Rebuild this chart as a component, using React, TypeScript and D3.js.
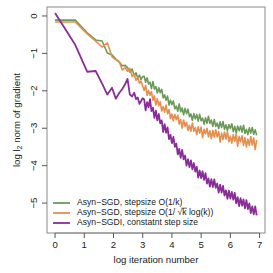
import { useLayoutEffect, useRef, useState } from 'react'
import * as d3 from 'd3'

const W = 273, H = 273
const M = { top: 7, right: 8, bottom: 40, left: 47 }

// log iteration number (shared by all three runs)
const logIter = [
  0, 0.69, 1.10, 1.39, 1.61, 1.79, 1.95, 2.08, 2.20, 2.30,
  2.40, 2.48, 2.56, 2.64, 2.71, 2.77, 2.83, 2.89, 2.94, 3.00,
  3.05, 3.10, 3.15, 3.20, 3.25, 3.30, 3.35, 3.40, 3.45, 3.50,
  3.55, 3.60, 3.65, 3.70, 3.75, 3.80, 3.85, 3.90, 3.95, 4.00,
  4.05, 4.10, 4.15, 4.20, 4.25, 4.30, 4.35, 4.40, 4.45, 4.50,
  4.55, 4.60, 4.65, 4.70, 4.75, 4.80, 4.85, 4.90, 4.95, 5.00,
  5.05, 5.10, 5.15, 5.20, 5.25, 5.30, 5.35, 5.40, 5.45, 5.50,
  5.55, 5.60, 5.65, 5.70, 5.75, 5.80, 5.85, 5.90, 5.95, 6.00,
  6.05, 6.10, 6.15, 6.20, 6.25, 6.30, 6.35, 6.40, 6.45, 6.50,
  6.55, 6.60, 6.65, 6.70, 6.75, 6.80, 6.85, 6.90,
]

const sgdInvK = [
  -0.11, -0.11, -0.45, -0.64, -0.67, -0.99, -1.04, -1.15, -1.23, -1.33,
  -1.32, -1.38, -1.50, -1.42, -1.60, -1.52, -1.66, -1.58, -1.70, -1.62,
  -1.61, -1.77, -1.65, -1.82, -1.77, -1.94, -1.75, -1.95, -1.89, -2.06,
  -1.92, -2.05, -1.96, -2.19, -2.11, -2.25, -2.14, -2.38, -2.25, -2.37,
  -2.27, -2.48, -2.41, -2.55, -2.35, -2.56, -2.46, -2.64, -2.47, -2.61,
  -2.49, -2.69, -2.62, -2.79, -2.61, -2.75, -2.63, -2.81, -2.63, -2.80,
  -2.73, -2.89, -2.72, -2.87, -2.68, -2.87, -2.78, -2.95, -2.77, -2.95,
  -2.86, -3.01, -2.83, -2.98, -2.82, -3.03, -2.91, -3.06, -2.90, -3.01,
  -2.88, -3.09, -2.95, -3.13, -2.94, -3.07, -2.94, -3.10, -2.92, -3.14,
  -3.03, -3.17, -2.99, -3.13, -2.98, -3.16, -3.04, -3.19,
]

const sgdSqrtK = [
  -0.16, -0.16, -0.48, -0.67, -0.83, -0.72, -1.09, -1.17, -1.23, -1.44,
  -1.38, -1.48, -1.40, -1.62, -1.55, -1.72, -1.64, -1.80, -1.74, -1.88,
  -1.99, -1.85, -2.12, -1.99, -2.12, -2.02, -2.25, -2.14, -2.38, -2.21,
  -2.40, -2.29, -2.54, -2.42, -2.57, -2.38, -2.61, -2.50, -2.74, -2.62,
  -2.80, -2.63, -2.77, -2.65, -2.89, -2.77, -3.00, -2.78, -2.95, -2.84,
  -3.06, -2.92, -3.08, -2.86, -3.08, -2.98, -3.17, -2.96, -3.13, -2.97,
  -3.25, -3.03, -3.15, -3.00, -3.23, -3.07, -3.28, -3.06, -3.24, -3.04,
  -3.23, -3.09, -3.37, -3.13, -3.30, -3.10, -3.29, -3.09, -3.36, -3.21,
  -3.40, -3.17, -3.35, -3.16, -3.48, -3.22, -3.36, -3.20, -3.46, -3.25,
  -3.50, -3.29, -3.46, -3.22, -3.45, -3.26, -3.57, -3.31,
]

const sgdiConst = [
  0.08, -0.77, -1.49, -1.47, -1.81, -2.10, -1.92, -2.21, -2.05, -1.95,
  -1.82, -1.68, -2.10, -2.15, -2.05, -2.22, -2.18, -2.35, -2.28, -2.20,
  -2.23, -2.52, -2.30, -2.44, -2.22, -2.54, -2.45, -2.72, -2.53, -2.79,
  -2.62, -2.87, -2.79, -3.10, -2.89, -3.12, -2.98, -3.29, -3.18, -3.40,
  -3.23, -3.50, -3.41, -3.70, -3.55, -3.79, -3.58, -3.83, -3.73, -4.00,
  -3.83, -4.04, -3.86, -4.10, -3.93, -4.16, -4.03, -4.32, -4.13, -4.33,
  -4.15, -4.38, -4.20, -4.48, -4.34, -4.56, -4.36, -4.57, -4.37, -4.59,
  -4.48, -4.72, -4.51, -4.72, -4.54, -4.80, -4.66, -4.89, -4.67, -4.88,
  -4.70, -4.91, -4.73, -5.01, -4.84, -5.08, -4.87, -5.07, -4.90, -5.14,
  -4.92, -5.16, -5.01, -5.27, -5.09, -5.30, -5.09, -5.33,
]

const xTicks = [0, 1, 2, 3, 4, 5, 6, 7]
const yTicks = [0, -1, -2, -3, -4, -5]

const series = [
  { name: 'invK', values: sgdInvK, color: '#6b9a58', width: 1.6 },
  { name: 'sqrtK', values: sgdSqrtK, color: '#e48f4e', width: 1.6 },
  { name: 'const', values: sgdiConst, color: '#8b2d99', width: 1.8 },
]

const FONT = 'Liberation Sans, Arial, Helvetica, sans-serif'
const INK = '#222'
const SQRT_LABEL = 'Asyn\u2212SGD, stepsize O(1/ \u221Ak log(k))'

export default function App() {
  const sqrtRef = useRef<SVGTextElement>(null)
  const [bar, setBar] = useState<{ x1: number, x2: number, y: number } | null>(null)

  const x = d3.scaleLinear().domain([-0.276, 7.186]).range([M.left, W - M.right])
  const y = d3.scaleLinear().domain([-5.8, 0.24]).range([H - M.bottom, M.top])
  const line = d3.line<number>().x((_, i) => x(logIter[i])).y(d => y(d))

  const bottom = H - M.bottom
  const legendY = [203, 213, 223]

  // vinculum over the k of the square root
  useLayoutEffect(() => {
    const el = sqrtRef.current
    if (!el) return
    const i = SQRT_LABEL.indexOf('\u221A')
    const box = el.getExtentOfChar(i)
    const kEnd = el.getEndPositionOfChar(i + 1)
    setBar({ x1: box.x + box.width - 0.6, x2: kEnd.x + 0.3, y: box.y + 0.9 })
  }, [])

  return (
    <svg width={W} height={H} style={{ position: 'absolute', left: 0, top: 0, background: '#fff' }}
      fontFamily={FONT}>
      <defs>
        <clipPath id="plot">
          <rect x={M.left} y={M.top} width={W - M.left - M.right} height={H - M.top - M.bottom} />
        </clipPath>
      </defs>

      <g clipPath="url(#plot)">
        {series.map(s => (
          <path key={s.name} d={line(s.values) ?? ''} fill="none" stroke={s.color}
            strokeWidth={s.width} strokeLinejoin="round" />
        ))}
      </g>

      <rect x={M.left} y={M.top} width={W - M.left - M.right} height={H - M.top - M.bottom}
        fill="none" stroke="#8a8a8a" strokeWidth={1} />

      {/* x axis */}
      <line x1={x(0)} x2={x(7)} y1={bottom} y2={bottom} stroke="#8a8a8a" />
      {xTicks.map(t => (
        <g key={t}>
          <line x1={x(t)} x2={x(t)} y1={bottom} y2={bottom + 5} stroke="#555" />
          <text x={x(t)} y={bottom + 12} textAnchor="middle" dominantBaseline="middle"
            fontSize={9.6} fill={INK}>{t}</text>
        </g>
      ))}
      <text x={(M.left + W - M.right) / 2} y={260} textAnchor="middle" dominantBaseline="middle"
        fontSize={9.6} fill={INK}>log iteration number</text>

      {/* y axis */}
      {yTicks.map(t => (
        <g key={t}>
          <line x1={M.left - 5} x2={M.left} y1={y(t)} y2={y(t)} stroke="#555" />
          <text transform={`translate(${M.left - 13},${y(t)}) rotate(-90)`} textAnchor="middle"
            dominantBaseline="middle" fontSize={9.6} fill={INK}>{t === 0 ? '0' : `\u2212${-t}`}</text>
        </g>
      ))}
      <text transform={`translate(17,${(M.top + bottom) / 2}) rotate(-90)`} textAnchor="middle"
        dominantBaseline="middle" fontSize={9.6} fill={INK}>
        log l<tspan fontSize={7} dy={2.5}>2</tspan><tspan dy={-2.5}> norm of gradient</tspan>
      </text>

      {/* legend */}
      {series.map((s, i) => (
        <line key={s.name} x1={53} x2={70} y1={legendY[i]} y2={legendY[i]} stroke={s.color}
          strokeWidth={1.8} />
      ))}
      <text x={77} y={legendY[0]} dominantBaseline="middle" fontSize={8.6} fill={INK}>
        Asyn{'\u2212'}SGD, stepsize O(1/k)
      </text>
      <text ref={sqrtRef} x={77} y={legendY[1]} dominantBaseline="middle" fontSize={8.6} fill={INK}>
        {SQRT_LABEL}
      </text>
      {bar && <line x1={bar.x1} x2={bar.x2} y1={bar.y} y2={bar.y} stroke={INK} strokeWidth={0.7} />}
      <text x={77} y={legendY[2]} dominantBaseline="middle" fontSize={8.6} fill={INK}>
        Asyn{'\u2212'}SGDI, constatnt step size
      </text>
    </svg>
  )
}
